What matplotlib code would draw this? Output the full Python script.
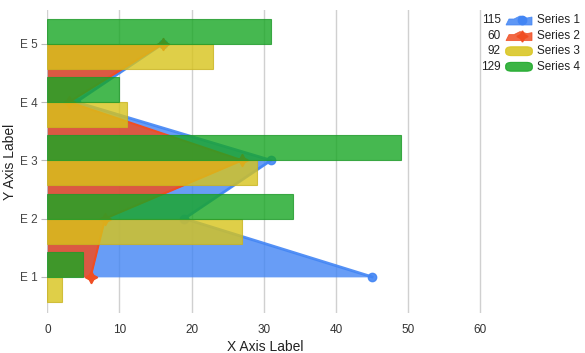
import matplotlib.pyplot as plt
from matplotlib.patches import FancyBboxPatch, Polygon
from matplotlib.lines import Line2D

categories = ['E 1', 'E 2', 'E 3', 'E 4', 'E 5']
series1 = [45, 19, 31, 4, 16]
series2 = [6, 8, 27, 3, 16]
series3 = [2, 27, 29, 11, 23]
series4 = [5, 34, 49, 10, 31]
names = ['Series 1', 'Series 2', 'Series 3', 'Series 4']

blue = '#4285f4'
red = '#f04e23'
yellow = '#d8c41a'
green = '#18a724'

plt.rcParams['font.family'] = ['Liberation Sans', 'DejaVu Sans']

fig = plt.figure(figsize=(5.85, 3.53), dpi=100)
ax = fig.add_axes([0.0809, 0.1133, 0.7464, 0.8584])

ypos = list(range(1, len(categories) + 1))

# area series
ax.fill_betweenx(ypos, 0, series1, color=blue, alpha=0.8, lw=0, zorder=2)
ax.plot(series1, ypos, color=blue, lw=2, marker='o', ms=6, zorder=3, alpha=0.9)
ax.fill_betweenx(ypos, 0, series2, color=red, alpha=0.85, lw=0, zorder=4)
ax.plot(series2, ypos, color=red, lw=1.5, marker=(4, 1, 0), ms=9, zorder=5)

# bar series
h = 0.43
ax.barh([y - h / 2 for y in ypos], series3, height=h, color=yellow, alpha=0.8,
        edgecolor='#c9b420', lw=0.8, zorder=6)
ax.barh([y + h / 2 for y in ypos], series4, height=h, color=green, alpha=0.8,
        edgecolor='#1f9a2a', lw=0.8, zorder=7)

ax.set_xlim(0, 60.5)
ax.set_ylim(0.38, 5.58)
ax.set_xticks(range(0, 61, 10))
ax.set_yticks(ypos)
ax.set_yticklabels(categories)
ax.grid(axis='x', color='#d0d0d0', lw=1, zorder=0)
ax.set_axisbelow(True)
for s in ax.spines.values():
    s.set_visible(False)
ax.tick_params(axis='x', length=0, labelsize=8.5, colors='#333333', pad=8)
ax.tick_params(axis='y', length=4, width=0.8, color='#bbbbbb', labelsize=8.5,
               labelcolor='#444444', pad=3)
ax.set_xlabel('X Axis Label', fontsize=10, color='#222222', labelpad=3)
ax.set_ylabel('Y Axis Label', fontsize=10, color='#222222', labelpad=2)

# legend with totals
totals = [sum(series1), sum(series2), sum(series3), sum(series4)]
colors = [blue, red, yellow, green]
W, H = 585, 353
for i, (name, tot, c) in enumerate(zip(names, totals, colors)):
    yc = 20 + i * 15.6
    fy = 1 - yc / H
    fig.text(501 / W, fy, str(tot), ha='right', va='center', fontsize=8.5, color='#222222')
    fig.text(537 / W, fy, name, ha='left', va='center', fontsize=8.5, color='#222222')
    if i < 2:
        pts = [(506, yc + 5), (509, yc - 1), (514, yc - 1), (520, yc - 4),
               (527, yc - 2), (532, yc - 3), (532, yc + 5)]
        poly = Polygon([(x / W, 1 - y / H) for x, y in pts], closed=True,
                       facecolor=c, alpha=0.85, edgecolor=c, lw=0.6,
                       transform=fig.transFigure)
        fig.add_artist(poly)
        mk = 'o' if i == 0 else (4, 1, 0)
        fig.add_artist(Line2D([522 / W], [1 - yc / H], marker=mk, ms=6 if i == 0 else 8,
                              color=c, transform=fig.transFigure))
    else:
        box = FancyBboxPatch((508 / W, 1 - (yc + 3) / H), 22 / W, 6 / H,
                             boxstyle='round,pad=0.004,rounding_size=0.01',
                             facecolor=c, alpha=0.85, edgecolor=c, lw=0.8,
                             transform=fig.transFigure)
        fig.add_artist(box)

fig.savefig('out.png', dpi=100)
